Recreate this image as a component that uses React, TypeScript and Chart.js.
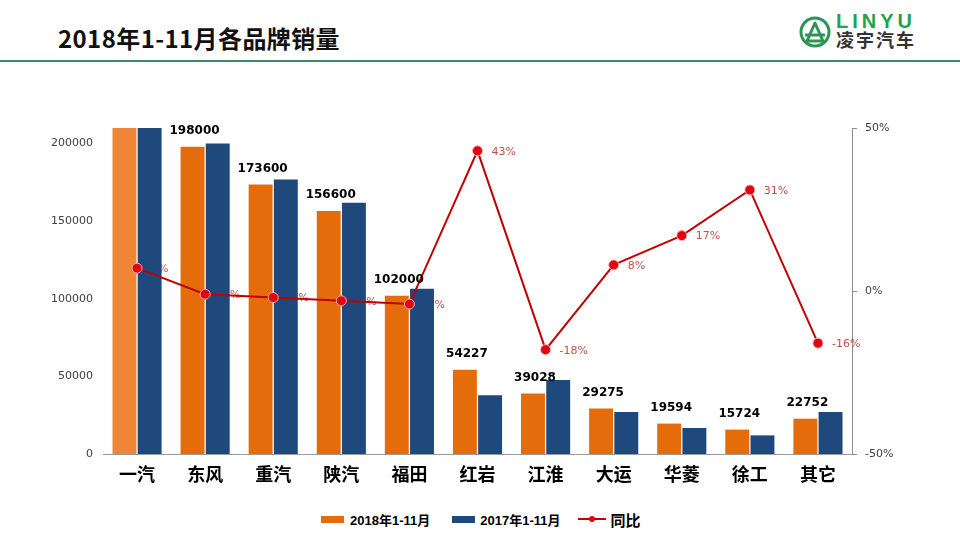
import { Chart, registerables } from "chart.js"
import { useEffect, useRef } from "react"

Chart.register(...registerables)

const brands = ["一汽", "东风", "重汽", "陕汽", "福田", "红岩", "江淮", "大运", "华菱", "徐工", "其它"]
const sales2018 = [232000, 198000, 173600, 156600, 102000, 54227, 39028, 29275, 19594, 15724, 22752]
const sales2017 = [217000, 200000, 176800, 161900, 106400, 37921, 47600, 27100, 16750, 12000, 27080]
const growth = [7, -1, -2, -3, -4, 43, -18, 8, 17, 31, -16]
const leftTicks = [0, 50000, 100000, 150000, 200000]
const rightTicks = [-50, 0, 50]
const seriesNames = ["2018年1-11月", "2017年1-11月", "同比"]

const ORANGE = "#E46C0A"
const BLUE = "#1F497D"
const RED = "#C00000"

const labelPlugin = {
    id: "labels",
    // growth labels go under the bars, like in the original
    beforeDatasetsDraw(chart: any) {
        const ctx = chart.ctx
        const meta = chart.getDatasetMeta(2)
        ctx.save()
        ctx.font = "11px 'DejaVu Sans'"
        ctx.fillStyle = "#C0504D"
        ctx.textAlign = "left"
        ctx.textBaseline = "middle"
        meta.data.forEach((pt: any, i: number) => {
            ctx.fillText(growth[i] + "%", pt.x + 14, pt.y + 1)
        })
        ctx.restore()
    },
    afterDatasetsDraw(chart: any) {
        const ctx = chart.ctx
        const meta = chart.getDatasetMeta(0)
        const yScale = chart.scales.y
        ctx.save()
        ctx.font = "bold 12px 'DejaVu Sans'"
        ctx.fillStyle = "#000"
        ctx.textAlign = "center"
        ctx.textBaseline = "middle"
        meta.data.forEach((bar: any, i: number) => {
            if (sales2018[i] > yScale.max) return
            ctx.fillText(String(sales2018[i]), bar.x + 2, bar.y - 16)
        })
        ctx.restore()
    },
}

const SalesChart = () => {
    const canvasRef = useRef<HTMLCanvasElement>(null)

    useEffect(() => {
        if (!canvasRef.current) return
        const chart = new Chart(canvasRef.current, {
            type: "bar",
            data: {
                labels: brands,
                datasets: [
                    {
                        label: seriesNames[0],
                        data: sales2018,
                        backgroundColor: sales2018.map((_, i) => (i === 0 ? "#EF8535" : ORANGE)),
                        categoryPercentage: 0.74,
                        barPercentage: 0.95,
                        yAxisID: "y",
                        order: 1,
                    },
                    {
                        label: seriesNames[1],
                        data: sales2017,
                        backgroundColor: BLUE,
                        categoryPercentage: 0.74,
                        barPercentage: 0.95,
                        yAxisID: "y",
                        order: 1,
                    },
                    {
                        type: "line",
                        label: seriesNames[2],
                        data: growth,
                        borderColor: RED,
                        borderWidth: 2,
                        pointRadius: 5,
                        pointBackgroundColor: "#E3000F",
                        pointBorderColor: "#F4B0B0",
                        pointBorderWidth: 1,
                        yAxisID: "y1",
                        order: 0,
                    } as any,
                ],
            },
            options: {
                responsive: false,
                animation: false,
                layout: { padding: { top: 28, left: 0, right: 0, bottom: 0 } },
                plugins: {
                    legend: { display: false },
                    tooltip: { enabled: false },
                },
                scales: {
                    x: {
                        grid: { display: false, drawTicks: false },
                        border: { color: "#9a9a9a", width: 1 },
                        ticks: {
                            color: "#000",
                            padding: 9,
                            font: { family: "'Noto Sans CJK SC'", size: 18, weight: "bold" },
                        },
                        afterFit: (s: any) => {
                            s.height = 46
                        },
                    },
                    y: {
                        position: "left",
                        min: 0,
                        max: 210000,
                        grid: { display: false, drawTicks: false },
                        border: { display: false },
                        ticks: {
                            padding: 10,
                            color: "#404040",
                            font: { family: "'DejaVu Sans'", size: 11 },
                            callback: (v: any) => String(v),
                        },
                        afterBuildTicks: (s: any) => {
                            s.ticks = leftTicks.map((v) => ({ value: v }))
                        },
                        afterFit: (s: any) => {
                            s.width = 103
                        },
                    },
                    y1: {
                        position: "right",
                        min: -50,
                        max: 50,
                        grid: { drawOnChartArea: false, drawTicks: true, tickLength: 5, color: "#8c8c8c" },
                        border: { color: "#8c8c8c" },
                        ticks: {
                            padding: 8,
                            color: "#404040",
                            font: { family: "'DejaVu Sans'", size: 11 },
                            callback: (v: any) => v + "%",
                        },
                        afterBuildTicks: (s: any) => {
                            s.ticks = rightTicks.map((v) => ({ value: v }))
                        },
                        afterFit: (s: any) => {
                            s.width = 108
                        },
                    },
                },
            } as any,
            plugins: [labelPlugin],
        })
        return () => {
            chart.destroy()
        }
    }, [])

    return <canvas ref={canvasRef} width={960} height={400} style={{ position: "absolute", left: 0, top: 100 }} />
}

const legendText = {
    fontFamily: "'Liberation Sans', 'Noto Sans CJK SC'",
    fontWeight: 700,
    fontSize: 13,
    color: "#000",
}

const App = () => {
    return (
        <div style={{ position: "fixed", left: 0, top: 0, width: 960, height: 540, background: "#fff", overflow: "hidden" }}>
            <div
                style={{
                    position: "absolute",
                    left: 58,
                    top: 24,
                    fontFamily: "'Noto Sans CJK SC'",
                    fontWeight: 700,
                    fontSize: 24,
                    lineHeight: "28px",
                    letterSpacing: 0.4,
                    color: "#111",
                }}
            >
                2018年1-11月各品牌销量
            </div>
            <svg width={34} height={34} style={{ position: "absolute", left: 798, top: 15 }}>
                <circle cx={17} cy={17} r={14} fill="none" stroke="#2E9455" strokeWidth={3} />
                <path d="M9 26 L17 8 L25 26 Z" fill="none" stroke="#2E9455" strokeWidth={3} strokeLinejoin="round" />
                <line x1={7} y1={20} x2={27} y2={20} stroke="#2E9455" strokeWidth={3} />
            </svg>
            <div
                style={{
                    position: "absolute",
                    left: 836,
                    top: 11,
                    fontFamily: "'Liberation Sans'",
                    fontWeight: 700,
                    fontSize: 20,
                    letterSpacing: 4,
                    color: "#23A24D",
                    lineHeight: "20px",
                }}
            >
                LINYU
            </div>
            <div
                style={{
                    position: "absolute",
                    left: 836,
                    top: 29,
                    fontFamily: "'Noto Sans CJK SC'",
                    fontWeight: 700,
                    fontSize: 18,
                    letterSpacing: 2,
                    color: "#333",
                    lineHeight: "20px",
                }}
            >
                凌宇汽车
            </div>
            <div style={{ position: "absolute", left: 0, top: 60, width: 960, height: 2, background: "#3D8B6A" }} />

            <SalesChart />

            <div style={{ position: "absolute", left: 321, top: 509, height: 20, display: "flex", alignItems: "center" }}>
                <span style={{ width: 23, height: 7, background: ORANGE, marginRight: 6 }} />
                <span style={legendText}>{seriesNames[0]}</span>
                <span style={{ width: 23, height: 7, background: BLUE, marginLeft: 22, marginRight: 5 }} />
                <span style={legendText}>{seriesNames[1]}</span>
                <svg width={28} height={10} style={{ marginLeft: 18, marginRight: 4 }}>
                    <line x1={0} y1={5} x2={28} y2={5} stroke={RED} strokeWidth={2} />
                    <circle cx={14} cy={5} r={3} fill="#E3000F" />
                </svg>
                <span style={{ ...legendText, fontSize: 15 }}>{seriesNames[2]}</span>
            </div>
        </div>
    )
}

export default App
